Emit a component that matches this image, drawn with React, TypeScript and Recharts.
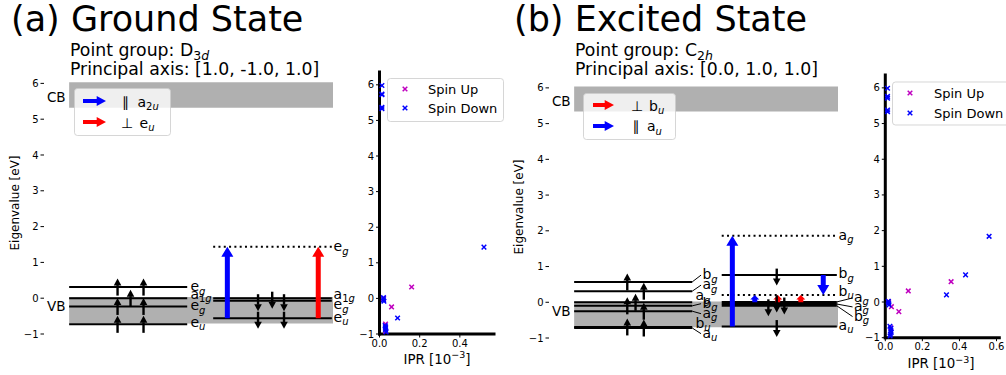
import React from "react";
import {
  ComposedChart,
  ScatterChart,
  Scatter,
  XAxis,
  YAxis,
  ReferenceLine,
  ReferenceArea,
} from "recharts";

const FONT = "DejaVu Sans, Verdana, sans-serif";
const BLUE = "#0000ff";
const RED = "#ff0000";
const MAGENTA = "#bf00bf";
const GREY = "#b0b0b0";
const H = 375;
const PX_PER_UNIT = 118.06;
const X_MIN = -0.213;

const E_TICKS = [-1, 0, 1, 2, 3, 4, 5, 6];
const E_DOMAIN = [-1, 6.36];

// (a) ground state
const GS_CB = [5.32, 6.03];
const GS_VB = [-0.71, 0.03];
const GS_UP_LEVELS = [0.31, 0.0, -0.23, -0.73];
const GS_DOWN_LEVELS = [0.0, -0.07, -0.56];
const GS_EMPTY_LEVELS = [1.44];
const GS_UP_LABELS = [
  { e: 0.31, y: 0.31, name: "e", sub: "g" },
  { e: 0.0, y: 0.09, name: "a", sub: "1g" },
  { e: -0.23, y: -0.23, name: "e", sub: "g" },
  { e: -0.73, y: -0.69, name: "e", sub: "u" },
];
const GS_DOWN_LABELS = [
  { e: 1.44, y: 1.42, name: "e", sub: "g" },
  { e: 0.0, y: 0.09, name: "a", sub: "1g" },
  { e: -0.07, y: -0.19, name: "e", sub: "g" },
  { e: -0.56, y: -0.55, name: "e", sub: "u" },
];
const GS_UP_SPINS = [
  { x: 0.41, e: 0.31 }, { x: 0.63, e: 0.31 }, { x: 0.52, e: 0.0 },
  { x: 0.41, e: -0.23 }, { x: 0.63, e: -0.23 },
  { x: 0.41, e: -0.73 }, { x: 0.63, e: -0.73 },
];
const GS_DOWN_SPINS = [
  { x: 1.6, e: -0.07 }, { x: 1.82, e: -0.07 }, { x: 1.72, e: 0.0 },
  { x: 1.6, e: -0.56 }, { x: 1.82, e: -0.56 },
];
const GS_TRANSITIONS = [
  { x: 1.34, from: -0.56, to: 1.44, pol: "par" },
  { x: 2.11, from: -0.56, to: 1.44, pol: "perp" },
];

// (b) excited state
const ES_CB = [5.34, 6.04];
const ES_VB = [-0.7, 0.02];
const ES_UP_LEVELS = [0.57, 0.31, 0.0, -0.1, -0.25, -0.69, -0.72];
const ES_DOWN_LEVELS = [0.76, 0.01, -0.05, -0.1, -0.68];
const ES_EMPTY_LEVELS = [1.86, 0.2];
const ES_UP_LABELS = [
  { e: 0.57, y: 0.76, name: "b", sub: "g", lead: true },
  { e: 0.31, y: 0.48, name: "a", sub: "g", lead: true },
  { e: 0.0, y: 0.17, name: "a", sub: "g" },
  { e: -0.1, y: -0.04, name: "b", sub: "g", lead: true },
  { e: -0.25, y: -0.32, name: "a", sub: "g", lead: true },
  { e: -0.69, y: -0.6, name: "b", sub: "u" },
  { e: -0.72, y: -0.88, name: "a", sub: "u", lead: true },
];
const ES_DOWN_LABELS = [
  { e: 1.86, y: 1.86, name: "a", sub: "g" },
  { e: 0.76, y: 0.78, name: "b", sub: "g" },
  { e: 0.2, y: 0.3, name: "b", sub: "u" },
  { e: 0.01, y: 0.12, name: "a", sub: "g", lead: true },
  { e: -0.05, y: -0.13, name: "a", sub: "g", lead: true },
  { e: -0.1, y: -0.4, name: "b", sub: "g", lead: true },
  { e: -0.68, y: -0.66, name: "a", sub: "u" },
];
const ES_UP_SPINS = [
  { x: 0.45, e: 0.57 }, { x: 0.59, e: 0.31 }, { x: 0.52, e: 0.0 },
  { x: 0.45, e: -0.1 }, { x: 0.59, e: -0.25 },
  { x: 0.45, e: -0.69 }, { x: 0.59, e: -0.72 },
];
const ES_DOWN_SPINS = [
  { x: 1.716, e: 0.76 }, { x: 1.716, e: 0.01 }, { x: 1.78, e: -0.05 },
  { x: 1.645, e: -0.1 }, { x: 1.716, e: -0.68 },
];
const ES_TRANSITIONS = [
  { x: 1.34, from: -0.68, to: 1.86, pol: "par" },
  { x: 1.53, from: 0.0, to: 0.2, pol: "par" },
  { x: 1.725, from: 0.0, to: 0.2, pol: "perp" },
  { x: 1.92, from: 0.0, to: 0.2, pol: "perp" },
  { x: 2.11, from: 0.76, to: 0.2, pol: "par" },
];

// IPR [10^-3] vs eigenvalue
const GS_IPR_UP_X = [0.16, 0.06, 0.03, 0.03, 0.02];
const GS_IPR_UP_Y = [0.32, -0.24, -0.72, -0.93, 0.0];
const GS_IPR_DN_X = [0.012, 0.012, 0.012, 0.012, 0.012, 0.02, 0.02, 0.022, 0.09, 0.52, 0.028, 0.03, 0.03, 0.03, 0.033];
const GS_IPR_DN_Y = [5.98, 5.74, 5.72, 5.37, 5.33, 0.02, -0.04, -0.08, -0.55, 1.44, -0.76, -0.8, -0.84, -0.88, -0.94];
const ES_IPR_UP_X = [0.355, 0.124, 0.073, 0.033, 0.018, 0.03];
const ES_IPR_UP_Y = [0.57, 0.31, -0.27, -0.13, 0.01, -0.72];
const ES_IPR_DN_X = [0.012, 0.012, 0.012, 0.012, 0.012, 0.016, 0.018, 0.02, 0.33, 0.433, 0.56, 0.025, 0.03, 0.03, 0.032, 0.028, 0.026];
const ES_IPR_DN_Y = [5.99, 5.76, 5.71, 5.38, 5.33, 0.02, -0.03, -0.08, 0.2, 0.76, 1.84, -0.68, -0.74, -0.8, -0.85, -0.9, -0.95];

const zip = (xs: number[], ys: number[]) => xs.map((x, i) => ({ x, y: ys[i] }));
const minus = (v: number) => (v < 0 ? "\u2212" + Math.abs(v) : String(v));
const TICK = { fontSize: 10, fill: "#000", fontFamily: FONT };

function subSpans(s: string, size: number, shift: number) {
  return (
    <tspan dy={shift} fontSize={size}>
      {s.split("").map((c, i) => (
        <tspan key={i} fontStyle={/[0-9]/.test(c) ? "normal" : "italic"}>{c}</tspan>
      ))}
    </tspan>
  );
}

function LevelLabel(props: any) {
  const { cx, cy, payload } = props;
  if (cx == null || cy == null) return null;
  if (payload.band) {
    return (
      <text x={cx} y={cy} dy={4.9} fontSize={13.5} fontFamily={FONT} textAnchor="end" fill="#000">
        {payload.name}
      </text>
    );
  }
  return (
    <text x={cx} y={cy} dy={4} fontSize={14} fontFamily={FONT} fill="#000">
      {payload.name}
      {subSpans(payload.sub, 10, 3.5)}
    </text>
  );
}

function SpinArrow(props: any) {
  const { cx, cy, payload } = props;
  if (cx == null || cy == null) return null;
  const d = payload.dir === "up" ? -1 : 1;
  const c = d > 0 ? cy + 2 : cy;
  const tip = c + d * 8.5;
  const tail = c - d * 8.5;
  const base = tip - d * 7;
  return (
    <g>
      <line x1={cx} x2={cx} y1={tail} y2={base + d * 0.5} stroke="#000" strokeWidth={2.4} />
      <polygon points={`${cx},${tip} ${cx - 3.8},${base} ${cx + 3.8},${base}`} fill="#000" />
    </g>
  );
}

function TransitionArrow(props: any) {
  const { x1, y1, y2, stroke } = props;
  if (x1 == null) return null;
  const dir = Math.sign(y2 - y1);
  const len = Math.abs(y2 - y1);
  const hl = Math.min(10, len * 0.6);
  const sw = 2.5;
  const hw = len < 15 ? 4.5 : 6;
  const b = y2 - dir * hl;
  const pts = [
    [x1 - sw, y1], [x1 + sw, y1], [x1 + sw, b], [x1 + hw, b],
    [x1, y2], [x1 - hw, b], [x1 - sw, b],
  ].map((p) => p.join(",")).join(" ");
  return <polygon points={pts} fill={stroke} />;
}

function Cross(color: string) {
  return (props: any) => {
    const { cx, cy } = props;
    if (cx == null || cy == null) return null;
    const r = 2.3;
    return (
      <path
        d={`M${cx - r},${cy - r}L${cx + r},${cy + r}M${cx - r},${cy + r}L${cx + r},${cy - r}`}
        stroke={color}
        strokeWidth={1.5}
        fill="none"
      />
    );
  };
}

type Lbl = { e: number; y: number; name: string; sub: string; lead?: boolean };
type Spin = { x: number; e: number };
type Tr = { x: number; from: number; to: number; pol: string };

function LevelPanel(p: {
  left: number; width: number; plotTop: number; plotBottom: number; axisWidth: number;
  rightStart: number; cb: number[]; vb: number[]; up: number[]; down: number[]; empty: number[];
  upLabels: Lbl[]; downLabels: Lbl[]; upSpins: Spin[]; downSpins: Spin[]; transitions: Tr[];
}) {
  const colEnd = 2.225;
  const bandEnd = 2.235;
  const leftLx = 1.027;
  const rightLx = 2.24;
  const leftShift = 0.06;
  const rightShift = 0.13;
  // the plot area runs to the right edge of the chart so the level labels are not clipped
  const xMax = X_MIN + (p.width - p.axisWidth) / PX_PER_UNIT;
  const labels = [
    ...p.upLabels.map((l) => ({ ...l, x: leftLx + (l.lead ? leftShift : 0) })),
    ...p.downLabels.map((l) => ({ ...l, x: rightLx + (l.lead ? rightShift : 0) })),
    { x: -0.03, y: (p.cb[0] + p.cb[1]) / 2 - 0.07, name: "CB", sub: "", band: true },
    { x: -0.03, y: p.vb[1] - 0.26, name: "VB", sub: "", band: true },
  ];
  const leaders = [
    ...p.upLabels.filter((l) => l.lead).map((l) => ({ x0: 1.0, e: l.e, x1: leftLx + leftShift - 0.012, y: l.y })),
    ...p.downLabels.filter((l) => l.lead).map((l) => ({ x0: colEnd, e: l.e, x1: rightLx + rightShift - 0.012, y: l.y })),
  ];
  const spins = [
    ...p.upSpins.map((s) => ({ x: s.x, y: s.e, dir: "up" })),
    ...p.downSpins.map((s) => ({ x: s.x, y: s.e, dir: "down" })),
  ];
  return (
    <div style={{ position: "absolute", left: p.left, top: 0 }}>
      <ComposedChart
        width={p.width}
        height={H}
        margin={{ top: p.plotTop, right: 0, bottom: H - p.plotBottom, left: 0 }}
      >
        <XAxis type="number" dataKey="x" domain={[X_MIN, xMax]} hide />
        <YAxis
          type="number"
          dataKey="y"
          domain={E_DOMAIN}
          ticks={E_TICKS}
          interval={0}
          width={p.axisWidth}
          axisLine={false}
          tickLine={{ stroke: "#000", strokeWidth: 1 }}
          tickSize={3.5}
          tickMargin={2}
          tick={TICK}
          tickFormatter={minus}
        />
        <ReferenceArea x1={0} x2={bandEnd} y1={p.cb[0]} y2={p.cb[1]} fill={GREY} fillOpacity={1} stroke="none" />
        <ReferenceArea x1={0} x2={bandEnd} y1={p.vb[0]} y2={p.vb[1]} fill={GREY} fillOpacity={1} stroke="none" />
        {p.up.map((e, i) => (
          <ReferenceLine key={"u" + i} segment={[{ x: 0, y: e }, { x: 1, y: e }]} stroke="#000" strokeWidth={2} />
        ))}
        {p.down.map((e, i) => (
          <ReferenceLine key={"d" + i} segment={[{ x: p.rightStart, y: e }, { x: colEnd, y: e }]} stroke="#000" strokeWidth={2} />
        ))}
        {p.empty.map((e, i) => (
          <ReferenceLine
            key={"o" + i}
            segment={[{ x: p.rightStart, y: e }, { x: colEnd, y: e }]}
            stroke="#000"
            strokeWidth={2}
            strokeDasharray="2 3.3"
          />
        ))}
        {leaders.map((l, i) => (
          <ReferenceLine key={"l" + i} segment={[{ x: l.x0, y: l.e }, { x: l.x1, y: l.y }]} stroke="#000" strokeWidth={1} />
        ))}
        {p.transitions.map((t, i) => (
          <ReferenceLine
            key={"t" + i}
            segment={[{ x: t.x, y: t.from }, { x: t.x, y: t.to }]}
            stroke={t.pol === "par" ? BLUE : RED}
            shape={(sp: any) => <TransitionArrow {...sp} />}
          />
        ))}
        <Scatter data={spins} shape={SpinArrow} isAnimationActive={false} />
        <Scatter data={labels} shape={LevelLabel} isAnimationActive={false} />
      </ComposedChart>
    </div>
  );
}

function IprPanel(p: {
  left: number; width: number; plotLeft: number; plotRight: number; plotTop: number; plotBottom: number;
  xMax: number; xTicks: number[]; up: { x: number; y: number }[]; down: { x: number; y: number }[];
}) {
  const axisH = 28;
  return (
    <div style={{ position: "absolute", left: p.left, top: 0 }}>
      <ScatterChart
        width={p.width}
        height={H}
        margin={{ top: p.plotTop, right: p.left + p.width - p.plotRight, bottom: H - p.plotBottom - axisH, left: 0 }}
      >
        <XAxis
          type="number"
          dataKey="x"
          domain={[0, p.xMax]}
          ticks={p.xTicks}
          interval={0}
          height={axisH}
          axisLine={{ stroke: "#000", strokeWidth: 3, strokeLinecap: "square" }}
          tickLine={{ stroke: "#000", strokeWidth: 1 }}
          tickSize={3.5}
          tickMargin={2}
          tick={TICK}
          tickFormatter={(v: number) => v.toFixed(1)}
        />
        <YAxis
          type="number"
          dataKey="y"
          domain={E_DOMAIN}
          ticks={E_TICKS}
          interval={0}
          width={p.plotLeft - p.left}
          axisLine={{ stroke: "#000", strokeWidth: 3, strokeLinecap: "square" }}
          tickLine={{ stroke: "#000", strokeWidth: 1 }}
          tickSize={3.5}
          tickMargin={2}
          tick={TICK}
          tickFormatter={minus}
        />
        <Scatter data={p.up} shape={Cross(MAGENTA)} isAnimationActive={false} />
        <Scatter data={p.down} shape={Cross(BLUE)} isAnimationActive={false} />
      </ScatterChart>
    </div>
  );
}

function HArrow({ x0, x1, y, color }: { x0: number; x1: number; y: number; color: string }) {
  const b = x1 - 9.3;
  return (
    <polygon
      points={`${x0},${y - 2} ${b},${y - 2} ${b},${y - 5} ${x1},${y} ${b},${y + 5} ${b},${y + 2} ${x0},${y + 2}`}
      fill={color}
    />
  );
}

function XMark({ x, y, color }: { x: number; y: number; color: string }) {
  const r = 2.3;
  return (
    <path d={`M${x - r},${y - r}L${x + r},${y + r}M${x - r},${y + r}L${x + r},${y - r}`} stroke={color} strokeWidth={1.5} />
  );
}

function Overlay() {
  const box = { fill: "#fff", fillOpacity: 0.8, stroke: "#cccccc", strokeOpacity: 0.8, rx: 3 };
  return (
    <svg
      width={1006}
      height={H}
      style={{ position: "absolute", left: 0, top: 0, pointerEvents: "none" }}
      fontFamily={FONT}
      fill="#000"
    >
      <text x={11} y={30.5} fontSize={35}>(a) Ground State</text>
      <text x={70} y={55.5} fontSize={17.3}>Point group: D{subSpans("3d", 12.5, 4)}</text>
      <text x={70} y={74.5} fontSize={17.3}>Principal axis: [1.0, -1.0, 1.0]</text>
      <text x={514} y={30.5} fontSize={35}>(b) Excited State</text>
      <text x={575} y={56} fontSize={17.3}>Point group: C{subSpans("2h", 12.5, 4)}</text>
      <text x={575} y={75} fontSize={17.3}>Principal axis: [0.0, 1.0, 1.0]</text>

      <text transform="translate(18.5,203) rotate(-90)" textAnchor="middle" fontSize={12}>Eigenvalue [eV]</text>
      <text transform="translate(522.5,207) rotate(-90)" textAnchor="middle" fontSize={12}>Eigenvalue [eV]</text>

      <text x={437} y={363.5} textAnchor="middle" fontSize={13.4}>
        IPR [10<tspan dy={-5.5} fontSize={9.5}>{"\u22123"}</tspan><tspan dy={5.5}>]</tspan>
      </text>
      <text x={941} y={368} textAnchor="middle" fontSize={13.4}>
        IPR [10<tspan dy={-5.5} fontSize={9.5}>{"\u22123"}</tspan><tspan dy={5.5}>]</tspan>
      </text>

      {/* transition legends */}
      <rect x={74.5} y={88.5} width={96} height={47} {...box} />
      <HArrow x0={83} x1={106} y={101} color={BLUE} />
      <HArrow x0={83} x1={106} y={122} color={RED} />
      <text x={122} y={106.5} fontSize={14}>{"\u2225"}</text>
      <text x={137.5} y={106.5} fontSize={14}>a{subSpans("2u", 10, 3.5)}</text>
      <text x={121} y={127.5} fontSize={14}>{"\u22a5"}</text>
      <text x={139.5} y={127.5} fontSize={14}>e{subSpans("u", 10, 3.5)}</text>

      <rect x={583.5} y={93.5} width={92} height={46} {...box} />
      <HArrow x0={593} x1={614} y={105} color={RED} />
      <HArrow x0={593} x1={614} y={126} color={BLUE} />
      <text x={631} y={110.5} fontSize={14}>{"\u22a5"}</text>
      <text x={649} y={110.5} fontSize={14}>b{subSpans("u", 10, 3.5)}</text>
      <text x={632.5} y={131} fontSize={14}>{"\u2225"}</text>
      <text x={647} y={131} fontSize={14}>a{subSpans("u", 10, 3.5)}</text>

      {/* spin legends */}
      <rect x={387.5} y={78.5} width={116} height={43} {...box} />
      <XMark x={405} y={89} color={MAGENTA} />
      <XMark x={405} y={108} color={BLUE} />
      <text x={428} y={93.5} fontSize={13}>Spin Up</text>
      <text x={428} y={112.5} fontSize={13}>Spin Down</text>

      <rect x={892.5} y={82} width={130} height={43} {...box} />
      <XMark x={910} y={93} color={MAGENTA} />
      <XMark x={910} y={113} color={BLUE} />
      <text x={934} y={97.5} fontSize={13}>Spin Up</text>
      <text x={934} y={117.5} fontSize={13}>Spin Down</text>
    </svg>
  );
}

export default function App() {
  return (
    <div
      style={{
        position: "absolute",
        left: 0,
        top: 0,
        width: 1006,
        height: H,
        overflow: "hidden",
        background: "#fff",
        fontFamily: FONT,
      }}
    >
      <LevelPanel
        left={0}
        width={372}
        plotTop={70.5}
        plotBottom={334}
        axisWidth={44}
        rightStart={1.22}
        cb={GS_CB}
        vb={GS_VB}
        up={GS_UP_LEVELS}
        down={GS_DOWN_LEVELS}
        empty={GS_EMPTY_LEVELS}
        upLabels={GS_UP_LABELS}
        downLabels={GS_DOWN_LABELS}
        upSpins={GS_UP_SPINS}
        downSpins={GS_DOWN_SPINS}
        transitions={GS_TRANSITIONS}
      />
      <IprPanel
        left={340}
        width={170}
        plotLeft={379.5}
        plotRight={494}
        plotTop={72}
        plotBottom={334}
        xMax={0.57}
        xTicks={[0, 0.2, 0.4]}
        up={zip(GS_IPR_UP_X, GS_IPR_UP_Y)}
        down={zip(GS_IPR_DN_X, GS_IPR_DN_Y)}
      />
      <LevelPanel
        left={500}
        width={376}
        plotTop={75}
        plotBottom={338}
        axisWidth={49}
        rightStart={1.25}
        cb={ES_CB}
        vb={ES_VB}
        up={ES_UP_LEVELS}
        down={ES_DOWN_LEVELS}
        empty={ES_EMPTY_LEVELS}
        upLabels={ES_UP_LABELS}
        downLabels={ES_DOWN_LABELS}
        upSpins={ES_UP_SPINS}
        downSpins={ES_DOWN_SPINS}
        transitions={ES_TRANSITIONS}
      />
      <IprPanel
        left={850}
        width={156}
        plotLeft={885.3}
        plotRight={999.3}
        plotTop={75}
        plotBottom={337.7}
        xMax={0.615}
        xTicks={[0, 0.2, 0.4, 0.6]}
        up={zip(ES_IPR_UP_X, ES_IPR_UP_Y)}
        down={zip(ES_IPR_DN_X, ES_IPR_DN_Y)}
      />
      <Overlay />
    </div>
  );
}
